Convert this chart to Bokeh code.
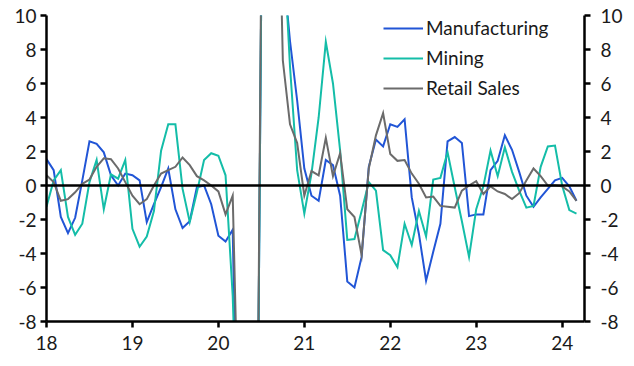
from bokeh.plotting import figure
from bokeh.models import LinearAxis, Range1d, FixedTicker, Span, Legend, LegendItem
from bokeh.embed import file_html
from bokeh.resources import INLINE

# Monthly data, Jan 2018 .. Mar 2024 (x = 18 + month_index/12)
start_year = 18
manufacturing = [1.55, 0.9, -1.85, -2.8, -1.9, 0.3, 2.6, 2.45, 1.95, 0.6, 0.0, 0.7,
                 0.6, 0.3, -2.15, -1.1, -0.1, 1.0, -1.4, -2.5, -2.1, -0.1, 0.0, -1.1,
                 -2.95, -3.3, -2.6, -25.0, -45.0, -40.0, 12.0, 30.0, 20.0, 13.0, 8.5, 5.0,
                 1.0, -0.6, -0.9, 1.5, 1.2, -0.6, -5.65, -6.0, -4.2, 1.1, 2.7, 2.3,
                 3.6, 3.45, 3.9, -0.7, -2.85, -5.6, -3.9, -2.25, 2.6, 2.85, 2.5, -1.8,
                 -1.7, -1.7, 0.9, 1.45, 2.95, 2.1, 0.8, -0.6, -1.25, -0.7, -0.2, 0.3,
                 0.45, -0.05, -0.9]
mining = [-1.25, 0.3, 0.9, -1.85, -2.9, -2.25, 0.2, 1.5, -1.4, 0.65, 0.4, 1.5,
          -2.55, -3.6, -3.0, -1.5, 2.05, 3.6, 3.6, -0.2, -2.15, -0.4, 1.5, 1.9,
          1.75, 0.6, -6.5, -20.0, -40.0, -40.0, 12.0, 30.0, 20.0, 15.0, 7.0, 0.9,
          -1.65, 0.7, 4.0, 8.45, 6.0, 2.05, -3.2, -3.15, -1.5, 0.2, -0.3, -3.8,
          -4.1, -4.8, -2.25, -3.5, -1.5, -3.0, 0.35, 0.45, 1.95, -0.1, -2.1, -4.2,
          -1.4, -0.05, 2.05, 0.55, 2.25, 0.8, -0.3, -1.3, -1.2, 1.1, 2.3, 2.35,
          0.0, -1.45, -1.65]
retail = [0.6, 0.2, -0.9, -0.8, -0.4, 0.1, 0.35, 1.1, 1.6, 1.55, 1.0, 0.2,
          -0.6, -1.1, -0.8, 0.0, 0.7, 0.9, 1.1, 1.65, 1.2, 0.55, 0.3, 0.0,
          -0.35, -1.7, -0.6, -18.0, -35.0, -40.0, 14.0, 30.0, 26.0, 7.35, 3.6, 2.5,
          -0.6, 0.85, 0.6, 2.8, 0.55, 1.9, -1.4, -1.85, -4.1, 1.0, 2.95, 4.25,
          1.85, 1.45, 1.5, 0.7, 0.1, -0.7, -0.65, -1.2, -1.25, -1.3, -0.3, 0.0,
          0.25, -0.5, -0.05, -0.35, -0.5, -0.8, -0.45, 0.3, 1.0, 0.55, 0.0, 0.0,
          -0.05, -0.35, -0.9]
series_names = ["Manufacturing", "Mining", "Retail Sales"]
x_ticks = [18, 19, 20, 21, 22, 23, 24]
y_ticks = [-8, -6, -4, -2, 0, 2, 4, 6, 8, 10]

colors = ["#2155D6", "#14BDA8", "#6B6B6B"]
FONT = "Lato"
TEXT = "#1a1a1a"
FS = "19px"

x = [start_year + i / 12 for i in range(len(manufacturing))]

p = figure(width=626, height=358, x_range=Range1d(18, 24.26), y_range=Range1d(-8, 10),
           output_backend="svg", toolbar_location=None,
           min_border_left=46, min_border_right=42, min_border_top=15, min_border_bottom=37)
p.xgrid.visible = False
p.ygrid.visible = False
p.outline_line_color = None
p.background_fill_color = "white"
p.border_fill_color = "white"

p.add_layout(LinearAxis(), "right")

for ax in p.axis:
    ax.axis_line_width = 2.5
    ax.axis_line_color = "black"
    ax.major_tick_line_width = 2.5
    ax.major_tick_line_color = "black"
    ax.major_tick_in = 0
    ax.major_tick_out = 6
    ax.minor_tick_line_color = None
    ax.major_label_text_font = FONT
    ax.major_label_text_font_size = FS
    ax.major_label_text_color = TEXT

p.xaxis.ticker = FixedTicker(ticks=x_ticks)
p.xaxis.major_label_overrides = {t: str(t) for t in x_ticks}
p.xaxis.major_label_standoff = 8
for ax in p.yaxis:
    ax.ticker = FixedTicker(ticks=y_ticks)
    ax.major_label_overrides = {t: str(t) for t in y_ticks}
p.left[0].major_label_standoff = 4
p.right[0].major_label_standoff = 10

p.add_layout(Span(location=0, dimension="width", line_color="black", line_width=2.5))

renderers = []
for vals, c in zip([manufacturing, mining, retail], colors):
    r = p.line(x, vals, line_color=c, line_width=2, line_join="miter")
    renderers.append(r)

legend = Legend(items=[LegendItem(label=n, renderers=[r]) for n, r in zip(series_names, renderers)],
                location=(337, 220.3), border_line_color=None, background_fill_alpha=0,
                glyph_width=40, glyph_height=26, label_height=26, spacing=4,
                padding=0, margin=0, label_standoff=3,
                label_text_font=FONT, label_text_font_size=FS, label_text_color=TEXT)
p.add_layout(legend)

open("out.html", "w").write(file_html(p, INLINE))
